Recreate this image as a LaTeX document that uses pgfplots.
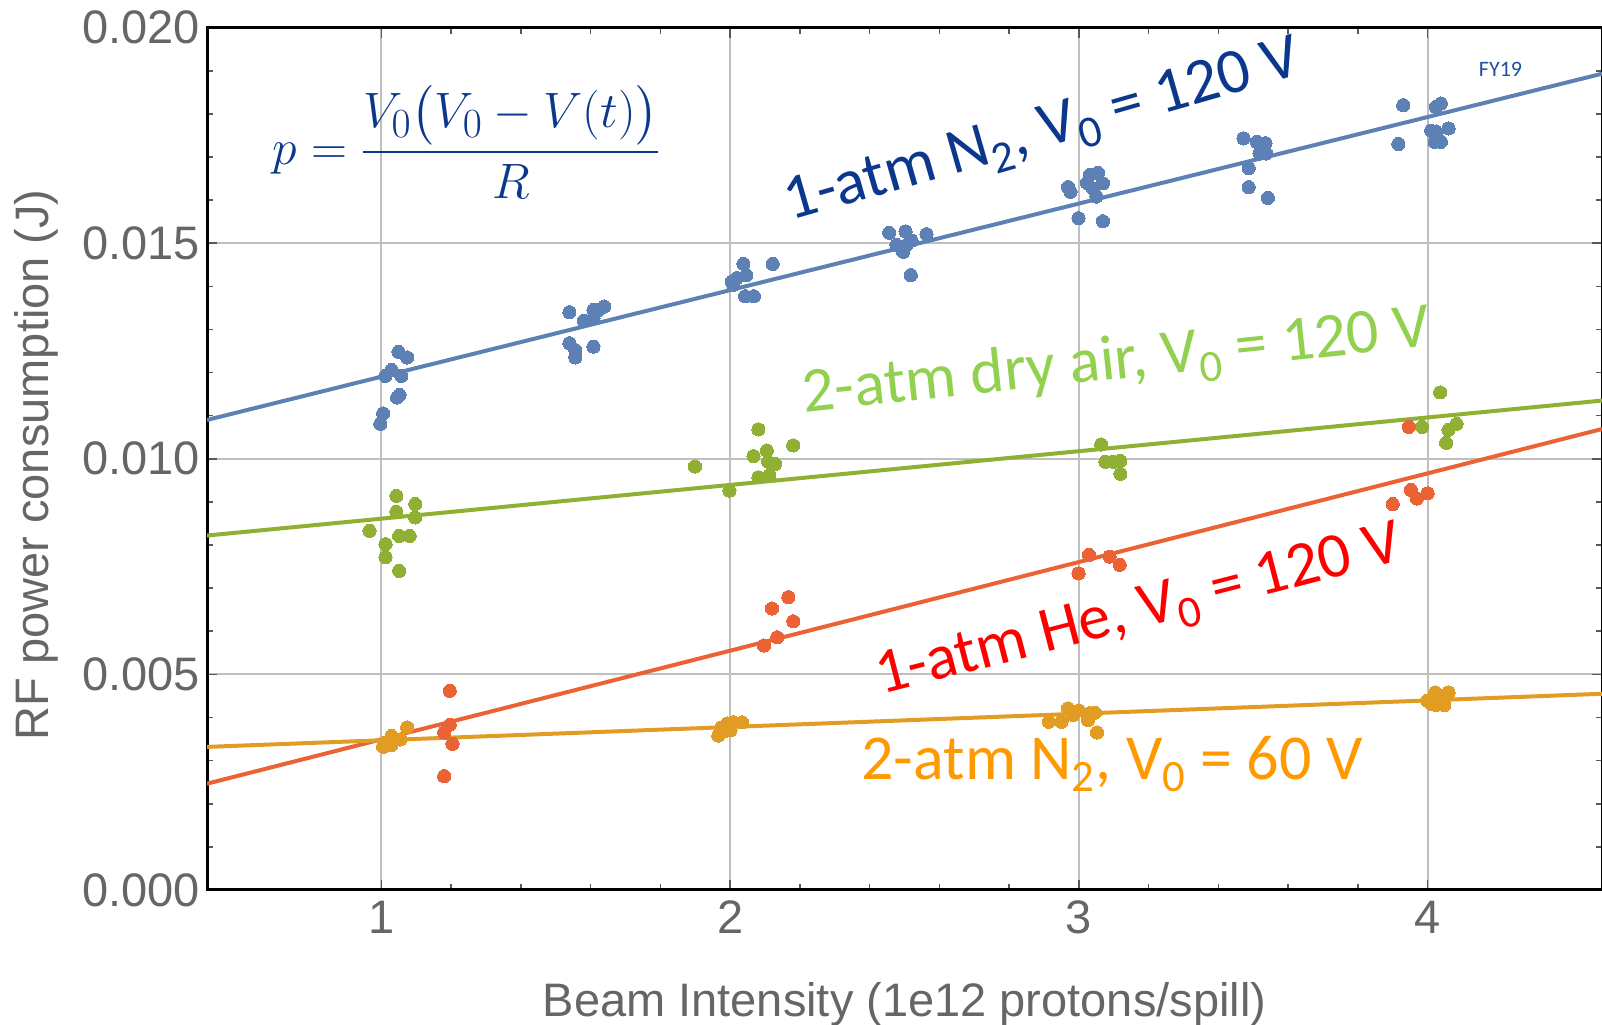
\documentclass[border=0pt]{standalone}
\usepackage{amsmath}
\usepackage{fontspec}
\setmainfont{Liberation Sans}
\newfontfamily\calib{Carlito}
\usepackage{pgfplots}
\pgfplotsset{compat=1.18}
\definecolor{cblue}{HTML}{5E81B5}
\definecolor{cgreen}{HTML}{8FB032}
\definecolor{cred}{HTML}{EB6235}
\definecolor{corange}{HTML}{E19C24}
\definecolor{tnavy}{HTML}{0B388C}
\definecolor{tgreen}{HTML}{92D050}
\definecolor{tred}{HTML}{FF0000}
\definecolor{torange}{HTML}{FF9900}
\definecolor{tfy}{HTML}{1F4E9E}
\definecolor{labgray}{HTML}{666666}
\begin{document}
\begin{tikzpicture}
\begin{axis}[
  scale only axis, width=697.5pt, height=431.2pt,
  xmin=0.5, xmax=4.5, ymin=0, ymax=0.02,
  xtick={1,2,3,4}, ytick={0,0.005,0.01,0.015,0.02},
  minor x tick num=4, minor y tick num=4,
  grid=major, major grid style={color=black!25, line width=1.1pt},
  tick align=inside,
  major tick length=5pt, minor tick length=3pt,
  every tick/.style={color=black!65, line width=0.8pt},
  axis line style={black, line width=1.5pt},
  tick label style={font=\fontsize{23.5}{27}\selectfont, color=labgray},
  xticklabel style={yshift=-2pt},
  scaled y ticks=false,
  yticklabel style={/pgf/number format/.cd, fixed, fixed zerofill, precision=3},
  /pgf/number format/assume math mode=true,
  xlabel={Beam Intensity (1e12 protons/spill)},
  ylabel={RF power consumption (J)},
  label style={font=\fontsize{23.5}{27}\selectfont, color=labgray},
  xlabel style={at={(axis description cs:0.5,-0.147)}, anchor=base},
  ylabel style={at={(axis description cs:-0.1226,0.493)}, anchor=center, rotate=0},
  clip mode=individual,
  mymark/.style={only marks, mark=*, mark size=3.3pt, color=#1, mark options={draw=#1, fill=#1, line width=0pt}},
]
% fit lines
\addplot[cblue, line width=2pt] coordinates {(0.5,0.0109) (4.5,0.01893)};
\addplot[cgreen, line width=2pt] coordinates {(0.5,0.00822) (4.5,0.01135)};
\addplot[cred, line width=2pt] coordinates {(0.5,0.002465) (4.5,0.01069)};
\addplot[corange, line width=2pt] coordinates {(0.5,0.003318) (4.5,0.00455)};
% data points
\addplot[mymark=cblue] coordinates {
(0.997,0.01081) (1.005,0.01105) (1.049,0.01248) (1.074,0.01235) (1.011,0.01192)
(1.029,0.01206) (1.057,0.01192) (1.045,0.01142) (1.052,0.01148)
(1.539,0.01340) (1.580,0.01320) (1.608,0.01345) (1.639,0.01353) (1.622,0.01345)
(1.608,0.01326) (1.539,0.01268) (1.556,0.01252) (1.556,0.01235) (1.608,0.01260)
(2.038,0.01452) (2.122,0.01452) (2.005,0.01411) (2.019,0.01419) (2.046,0.01426)
(2.043,0.01377) (2.068,0.01377) (2.009,0.01403)
(2.456,0.01524) (2.503,0.01527) (2.563,0.01521) (2.477,0.01496) (2.520,0.01506)
(2.496,0.01480) (2.518,0.01426) (2.506,0.01496)
(2.969,0.01630) (2.976,0.01619) (2.999,0.01558) (3.031,0.01658) (3.055,0.01663)
(3.023,0.01640) (3.069,0.01639) (3.050,0.01608) (3.069,0.01551) (3.040,0.01627)
(3.472,0.01743) (3.510,0.01735) (3.535,0.01732) (3.518,0.01708) (3.537,0.01708)
(3.487,0.01674) (3.487,0.01630) (3.542,0.01605)
(3.930,0.01820) (3.916,0.01730) (4.024,0.01816) (4.038,0.01824) (4.010,0.01761)
(4.024,0.01759) (4.060,0.01766) (4.020,0.01735) (4.038,0.01735)
};
\addplot[mymark=cgreen] coordinates {
(0.966,0.00833) (1.012,0.00802) (1.012,0.00772) (1.051,0.00740) (1.043,0.00914)
(1.097,0.00895) (1.043,0.00877) (1.097,0.00864) (1.051,0.00821) (1.081,0.00821)
(1.899,0.00982) (1.998,0.00926) (2.081,0.01068) (2.181,0.01031) (2.067,0.01006)
(2.105,0.01019) (2.109,0.00993) (2.129,0.00988) (2.081,0.00957) (2.112,0.00962)
(3.064,0.01033) (3.076,0.00993) (3.119,0.00995) (3.119,0.00965) (3.099,0.00993)
(4.036,0.01154) (3.984,0.01074) (4.060,0.01067) (4.083,0.01081) (4.053,0.01037)
};
\addplot[mymark=cred] coordinates {
(1.196,0.00462) (1.196,0.00383) (1.180,0.00365) (1.204,0.00339) (1.180,0.00264)
(2.120,0.00653) (2.167,0.00679) (2.181,0.00623) (2.135,0.00586) (2.097,0.00567)
(3.029,0.00777) (3.088,0.00773) (2.999,0.00734) (3.117,0.00754)
(3.946,0.01074) (3.952,0.00928) (3.969,0.00908) (4.000,0.00920) (3.900,0.00895)
};
\addplot[mymark=corange] coordinates {
(1.005,0.00332) (1.029,0.00336) (1.029,0.00357) (1.054,0.00349) (1.074,0.00377) (1.011,0.00342)
(1.966,0.00358) (1.975,0.00377) (1.992,0.00386) (2.010,0.00389) (2.034,0.00389) (2.001,0.00370) (1.984,0.00368)
(2.914,0.00390) (2.950,0.00390) (2.969,0.00421) (3.000,0.00416) (2.983,0.00406)
(3.031,0.00410) (3.046,0.00411) (3.026,0.00394) (3.052,0.00365)
(4.022,0.00458) (4.060,0.00458) (3.999,0.00439) (4.024,0.00429) (4.048,0.00429) (4.033,0.00441) (4.010,0.00432)
};
% annotations
\node[rotate=16, text=tnavy, font=\calib\fontsize{32}{36}\selectfont] at (axis cs:2.898,0.01755) {1-atm N\textsubscript{2}, V\textsubscript{0} = 120 V};
\node[rotate=6, text=tgreen, font=\calib\fontsize{32}{36}\selectfont] at (axis cs:3.107,0.01222) {2-atm dry air, V\textsubscript{0} = 120 V};
\node[rotate=14.5, text=tred, font=\calib\fontsize{32}{36}\selectfont] at (axis cs:3.173,0.00642) {1-atm He, V\textsubscript{0} = 120 V};
\node[text=torange, font=\calib\fontsize{32}{36}\selectfont] at (axis cs:3.095,0.00292) {2-atm N\textsubscript{2}, V\textsubscript{0} = 60 V};
\node[text=tnavy, font=\fontsize{28.5}{33}\selectfont] at (axis cs:1.245,0.01735) {$p=\dfrac{V_0\bigl(V_0-V(t)\bigr)}{R}$};
\node[text=tfy, font=\calib\fontsize{11}{13}\selectfont] at (axis cs:4.209,0.01904) {FY19};
\coordinate (bbsw) at (rel axis cs:-0.1484,-0.1565);
\coordinate (bbne) at (rel axis cs:1.0,1.032);
\end{axis}
\pgfresetboundingbox
\path[use as bounding box] (bbsw) rectangle (bbne);
\end{tikzpicture}
\end{document}
